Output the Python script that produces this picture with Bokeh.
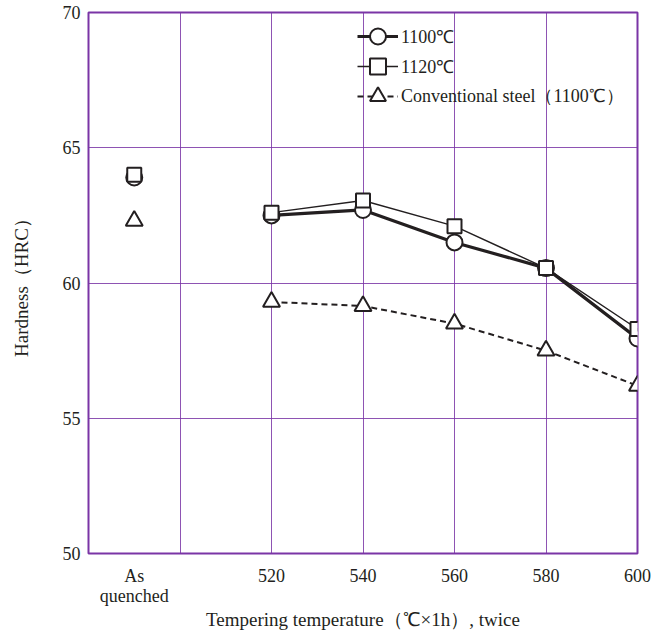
from bokeh.plotting import figure
from bokeh.models import FixedTicker, Legend, LegendItem, Range1d
from bokeh.embed import file_html
from bokeh.resources import INLINE

# ---- data ----
temps = [520, 540, 560, 580, 600]
aq_pos = 490  # position of the "As quenched" category
hrc_1100 = [62.5, 62.7, 61.5, 60.55, 57.95]
hrc_1120 = [62.6, 63.05, 62.1, 60.55, 58.3]
hrc_conv = [59.3, 59.15, 58.5, 57.5, 56.2]
aq_1100 = 63.9
aq_1120 = 64.0
aq_conv = 62.3
x_ticks = [490, 520, 540, 560, 580, 600]
x_tick_labels = {490: "As\nquenched", 520: "520", 540: "540", 560: "560", 580: "580", 600: "600"}
y_ticks = [50, 55, 60, 65, 70]
series_labels = ["1100℃", "1120℃", "Conventional steel（1100℃）"]
x_title = "Tempering temperature（℃×1h）, twice"
y_title = "Hardness（HRC）"

PURPLE = "#7a35a6"
INK = "#231f20"
FONT = "Liberation Serif"

p = figure(width=653, height=632, output_backend="svg", toolbar_location=None,
           x_range=Range1d(480, 600), y_range=Range1d(50, 70),
           min_border_left=88, min_border_right=16, min_border_top=12, min_border_bottom=72)

p.outline_line_color = PURPLE
p.outline_line_width = 2
p.background_fill_color = "white"

p.xgrid.ticker = FixedTicker(ticks=[500, 520, 540, 560, 580])
p.ygrid.ticker = FixedTicker(ticks=[55, 60, 65])
for g in (p.xgrid, p.ygrid):
    g.grid_line_color = PURPLE
    g.grid_line_width = 1
    g.grid_line_alpha = 0.85

p.xaxis.ticker = FixedTicker(ticks=x_ticks)
p.xaxis.major_label_overrides = x_tick_labels
p.yaxis.ticker = FixedTicker(ticks=y_ticks)
for ax in (p.xaxis, p.yaxis):
    ax.axis_line_color = None
    ax.major_tick_line_color = None
    ax.minor_tick_line_color = None
    ax.major_tick_out = 0
    ax.major_tick_in = 0
    ax.minor_tick_out = 0
    ax.minor_tick_in = 0
    ax.major_label_text_font = FONT
    ax.major_label_text_font_size = "18px"
    ax.major_label_text_color = INK
    ax.axis_label_text_font = FONT
    ax.axis_label_text_font_size = "19px"
    ax.axis_label_text_font_style = "normal"
    ax.axis_label_text_color = INK
p.xaxis.major_label_text_line_height = 1.0
p.xaxis.major_label_standoff = 12
p.yaxis.major_label_standoff = 8
p.xaxis.axis_label = x_title
p.xaxis.axis_label_standoff = 0
p.yaxis.axis_label = y_title
p.yaxis.axis_label_standoff = 28

# series lines
l1 = p.line(temps, hrc_1100, line_color=INK, line_width=3.2)
l2 = p.line(temps, hrc_1120, line_color=INK, line_width=1.4)
l3 = p.line(temps, hrc_conv, line_color=INK, line_width=2, line_dash="6 4")

m1 = p.scatter(temps + [aq_pos], hrc_1100 + [aq_1100], marker="circle", size=16,
               fill_color="white", line_color=INK, line_width=2)
m2 = p.scatter(temps + [aq_pos], hrc_1120 + [aq_1120], marker="square", size=14,
               fill_color="white", line_color=INK, line_width=2)
m3 = p.scatter(temps + [aq_pos], hrc_conv + [aq_conv], marker="triangle", size=17,
               fill_color="white", line_color=INK, line_width=2)

# one single-item legend per row, so the legend markers can be large while rows stay close
legend_rows = [(series_labels[0], [l1, m1], 497),
               (series_labels[1], [l2, m2], 467),
               (series_labels[2], [l3, m3], 437)]
for label, rends, vy in legend_rows:
    lg = Legend(items=[LegendItem(label=label, renderers=rends)], location=(269, vy))
    lg.background_fill_alpha = 0
    lg.border_line_color = None
    lg.padding = 0
    lg.margin = 0
    lg.spacing = 0
    lg.glyph_width = 41
    lg.glyph_height = 40
    lg.label_height = 40
    lg.label_standoff = 3
    lg.label_text_font = FONT
    lg.label_text_font_size = "18px"
    lg.label_text_color = INK
    p.add_layout(lg)

open("out.html", "w").write(file_html(p, INLINE))
